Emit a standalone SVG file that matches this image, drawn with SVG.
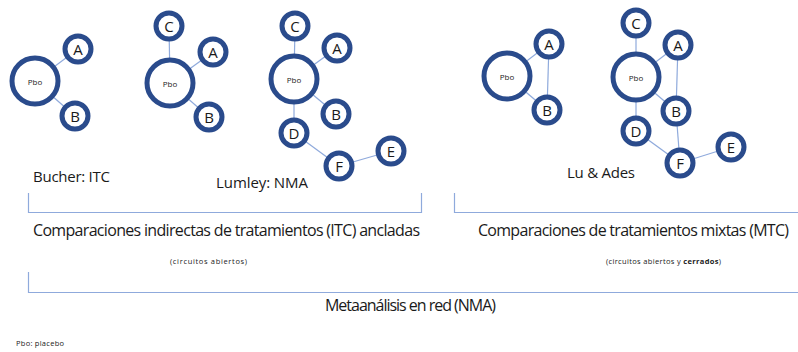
<svg xmlns="http://www.w3.org/2000/svg" width="798" height="352" viewBox="0 0 798 352">
<style>
.big{fill:#fff;stroke:#2A4B8C;stroke-width:5}
.sm{fill:#fff;stroke:#2A4B8C;stroke-width:5}
.e{stroke:#8FAADC;stroke-width:1.2;fill:none}
.br{stroke:#8FAADC;stroke-width:1.2;fill:none}
text{font-family:"Open Sans","Liberation Sans",sans-serif;fill:#1a1a1a}
.lt{font-size:15px;text-anchor:middle;dominant-baseline:central}
.pb{font-size:8px;text-anchor:middle;dominant-baseline:central}
.lbl{font-size:15px}
.h{font-size:16px}
.s{font-size:7.5px}
</style>
<rect width="798" height="352" fill="#fff"/>
<g id="connectors">
<line class="e" x1="35" y1="81" x2="78" y2="49"/>
<line class="e" x1="35" y1="81" x2="75" y2="116"/>
<line class="e" x1="170" y1="83" x2="169" y2="26"/>
<line class="e" x1="170" y1="83" x2="213" y2="52"/>
<line class="e" x1="170" y1="83" x2="209" y2="117"/>
<line class="e" x1="294" y1="79" x2="295" y2="26"/>
<line class="e" x1="294" y1="79" x2="337" y2="48"/>
<line class="e" x1="294" y1="79" x2="336" y2="114"/>
<line class="e" x1="294" y1="79" x2="294" y2="133"/>
<line class="e" x1="294" y1="133" x2="339" y2="166"/>
<line class="e" x1="339" y1="166" x2="391" y2="151"/>
<line class="e" x1="507" y1="76" x2="549" y2="44"/>
<line class="e" x1="507" y1="76" x2="547" y2="110"/>
<line class="e" x1="549" y1="44" x2="547" y2="110"/>
<line class="e" x1="636" y1="77" x2="636" y2="23"/>
<line class="e" x1="636" y1="77" x2="678" y2="45"/>
<line class="e" x1="636" y1="77" x2="676" y2="111"/>
<line class="e" x1="636" y1="77" x2="636" y2="131"/>
<line class="e" x1="678" y1="45" x2="676" y2="111"/>
<line class="e" x1="676" y1="111" x2="680" y2="163"/>
<line class="e" x1="636" y1="131" x2="680" y2="163"/>
<line class="e" x1="680" y1="163" x2="731" y2="147"/>
</g>
<g id="d1-pbo"><circle class="big" cx="35" cy="81" r="23"/><text class="pb" x="35" y="81">Pbo</text></g>
<g id="d1-a"><circle class="sm" cx="78" cy="49" r="13"/><text class="lt" x="78" y="49">A</text></g>
<g id="d1-b"><circle class="sm" cx="75" cy="116" r="13"/><text class="lt" x="75" y="116">B</text></g>

<g id="d2-pbo"><circle class="big" cx="170" cy="83" r="23"/><text class="pb" x="170" y="83">Pbo</text></g>
<g id="d2-c"><circle class="sm" cx="169" cy="26" r="13"/><text class="lt" x="169" y="26">C</text></g>
<g id="d2-a"><circle class="sm" cx="213" cy="52" r="13"/><text class="lt" x="213" y="52">A</text></g>
<g id="d2-b"><circle class="sm" cx="209" cy="117" r="13"/><text class="lt" x="209" y="117">B</text></g>

<g id="d3-pbo"><circle class="big" cx="294" cy="79" r="23"/><text class="pb" x="294" y="79">Pbo</text></g>
<g id="d3-c"><circle class="sm" cx="295" cy="26" r="13"/><text class="lt" x="295" y="26">C</text></g>
<g id="d3-a"><circle class="sm" cx="337" cy="48" r="13"/><text class="lt" x="337" y="48">A</text></g>
<g id="d3-b"><circle class="sm" cx="336" cy="114" r="13"/><text class="lt" x="336" y="114">B</text></g>
<g id="d3-d"><circle class="sm" cx="294" cy="133" r="13"/><text class="lt" x="294" y="133">D</text></g>
<g id="d3-f"><circle class="sm" cx="339" cy="166" r="13"/><text class="lt" x="339" y="166">F</text></g>
<g id="d3-e"><circle class="sm" cx="391" cy="151" r="13"/><text class="lt" x="391" y="151">E</text></g>

<g id="d4-pbo"><circle class="big" cx="507" cy="76" r="23"/><text class="pb" x="507" y="76">Pbo</text></g>
<g id="d4-a"><circle class="sm" cx="549" cy="44" r="13"/><text class="lt" x="549" y="44">A</text></g>
<g id="d4-b"><circle class="sm" cx="547" cy="110" r="13"/><text class="lt" x="547" y="110">B</text></g>

<g id="d5-pbo"><circle class="big" cx="636" cy="77" r="23"/><text class="pb" x="636" y="77">Pbo</text></g>
<g id="d5-c"><circle class="sm" cx="636" cy="23" r="13"/><text class="lt" x="636" y="23">C</text></g>
<g id="d5-a"><circle class="sm" cx="678" cy="45" r="13"/><text class="lt" x="678" y="45">A</text></g>
<g id="d5-b"><circle class="sm" cx="676" cy="111" r="13"/><text class="lt" x="676" y="111">B</text></g>
<g id="d5-d"><circle class="sm" cx="636" cy="131" r="13"/><text class="lt" x="636" y="131">D</text></g>
<g id="d5-f"><circle class="sm" cx="680" cy="163" r="13"/><text class="lt" x="680" y="163">F</text></g>
<g id="d5-e"><circle class="sm" cx="731" cy="147" r="13"/><text class="lt" x="731" y="147">E</text></g>

<g id="labels">
<text class="lbl" x="33" y="182" textLength="77">Bucher: ITC</text>
<text class="lbl" x="216" y="188" textLength="92">Lumley: NMA</text>
<text class="lbl" x="567" y="178" textLength="68">Lu &amp; Ades</text>
</g>
<g id="brackets">
<path class="br" d="M28.5,193 V212.5 H421.5 V193"/>
<path class="br" d="M454.5,193 V212.5 H798"/>
<path class="br" d="M28.5,272 V292.5 H798"/>
</g>
<g id="captions">
<text class="h" x="33" y="236" textLength="387">Comparaciones indirectas de tratamientos (ITC) ancladas</text>
<text class="s" x="170" y="264" textLength="77">(circuitos abiertos)</text>
<text class="h" x="478" y="236" textLength="311">Comparaciones de tratamientos mixtas (MTC)</text>
<text class="s" x="606" y="264" textLength="115">(circuitos abiertos y <tspan font-weight="bold">cerrados</tspan>)</text>
<text class="h" x="325" y="311" textLength="171">Metaanálisis en red (NMA)</text>
<text class="s" x="16" y="346" textLength="48">Pbo: placebo</text>
</g>
</svg>
